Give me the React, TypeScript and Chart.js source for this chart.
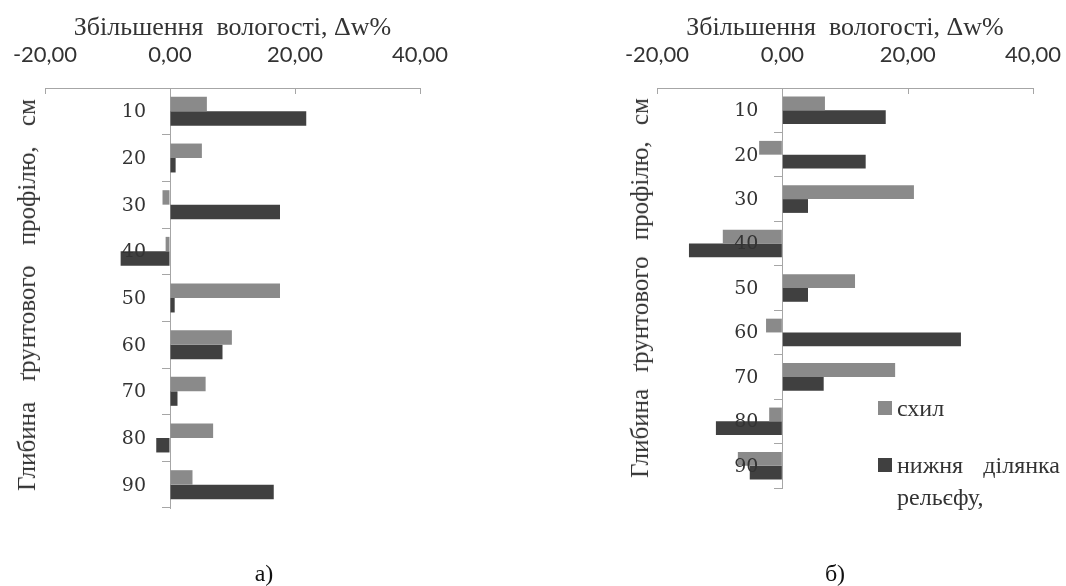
import React, { useEffect, useRef } from "react";
import { Chart, registerables } from "chart.js";

Chart.register(...registerables);

const categories = ["10", "20", "30", "40", "50", "60", "70", "80", "90"];
const slopeA = [5.9, 5.1, -1.2, -0.7, 17.6, 9.9, 5.7, 6.9, 3.6];
const lowA = [21.8, 0.9, 17.6, -7.9, 0.75, 8.4, 1.2, -2.2, 16.6];
const slopeB = [6.8, -3.7, 21.0, -9.5, 11.6, -2.6, 18.0, -2.1, -7.1];
const lowB = [16.5, 13.3, 4.1, -14.9, 4.1, 28.5, 6.6, -10.6, -5.2];
const xTicks = [-20, 0, 20, 40];

const seriesNames = ["схил", "нижня ділянка рельєфу,"];
const xTitle = "Збільшення  вологості, Δw%";
const yTitle = "Глибина ґрунтового профілю, см";

const GRAY = "#8a8a8a";
const DARK = "#404040";
const AXIS = "#a6a6a6";
const TEXT = "#333333";

const innerTicks = {
  id: "innerTicks",
  afterDraw(chart: any) {
    const x = chart.scales.x;
    const ctx = chart.ctx;
    ctx.save();
    ctx.strokeStyle = AXIS;
    ctx.lineWidth = 1;
    x.ticks.forEach((t: any) => {
      if (t.value === 0) return;
      const px = Math.round(x.getPixelForValue(t.value)) + 0.5;
      ctx.beginPath();
      ctx.moveTo(px, chart.chartArea.top);
      ctx.lineTo(px, chart.chartArea.top + 6);
      ctx.stroke();
    });
    ctx.restore();
  },
};

// category labels drawn beside the zero line, above the bars
const catLabels = {
  id: "catLabels",
  afterDatasetsDraw(chart: any) {
    const x = chart.scales.x;
    const y = chart.scales.y;
    const ctx = chart.ctx;
    const x0 = x.getPixelForValue(0);
    ctx.save();
    ctx.font = '19px "DejaVu Serif"';
    ctx.fillStyle = TEXT;
    ctx.textAlign = "right";
    ctx.textBaseline = "middle";
    (chart.data.labels as string[]).forEach((lab, i) => {
      ctx.fillText(lab, x0 - 24, y.getPixelForValue(i) + 1);
    });
    ctx.restore();
  },
};

function Panel(props: {
  slope: number[];
  low: number[];
  left: number;
  width: number;
  padLeft: number;
  padRight: number;
  padBottom: number;
}) {
  const ref = useRef<HTMLCanvasElement>(null);
  useEffect(() => {
    const chart = new Chart(ref.current!, {
      type: "bar",
      data: {
        labels: categories,
        datasets: [
          { label: seriesNames[0], data: props.slope, backgroundColor: GRAY },
          { label: seriesNames[1], data: props.low, backgroundColor: DARK },
        ],
      },
      options: {
        indexAxis: "y",
        responsive: false,
        animation: false,
        devicePixelRatio: 1,
        datasets: { bar: { categoryPercentage: 0.62, barPercentage: 1.0 } },
        layout: {
          padding: { left: props.padLeft, right: props.padRight, top: 0, bottom: props.padBottom },
        },
        plugins: { legend: { display: false }, tooltip: { enabled: false } },
        scales: {
          x: {
            position: "top",
            min: -20,
            max: 40,
            afterBuildTicks: (s: any) => {
              s.ticks = xTicks.map((v) => ({ value: v }));
            },
            afterFit: (s: any) => {
              s.height = 88;
              s.paddingLeft = 0;
              s.paddingRight = 0;
            },
            ticks: {
              font: { family: "Lato", size: 22 },
              color: TEXT,
              padding: 20,
              maxRotation: 0,
              callback: (v: any) => Number(v).toFixed(2).replace(".", ","),
            },
            grid: { drawOnChartArea: false, drawTicks: false },
            border: { color: AXIS, width: 1 },
            title: {
              display: true,
              text: xTitle,
              font: { family: "Liberation Serif", size: 26 },
              color: TEXT,
              padding: { top: 13, bottom: 0 },
            },
          },
          y: {
            type: "category",
            position: { x: 0 } as any,
            offset: true,
            grid: { offset: true, drawOnChartArea: false, tickLength: 8, color: AXIS },
            border: { color: AXIS, width: 1 },
            ticks: { display: false },
          },
        },
      },
      plugins: [innerTicks, catLabels],
    } as any);
    return () => chart.destroy();
  }, []);
  return (
    <canvas
      ref={ref}
      width={props.width}
      height={586}
      style={{ position: "absolute", left: props.left, top: 0, width: props.width, height: 586 }}
    />
  );
}

const vTitleStyle = (cx: number, cy: number, ws: number): React.CSSProperties => ({
  position: "absolute",
  left: cx,
  top: cy,
  transform: "translate(-50%, -50%) rotate(-90deg)",
  whiteSpace: "pre",
  fontFamily: "Liberation Serif",
  fontSize: 25,
  wordSpacing: ws,
  color: TEXT,
});

export default function App() {
  return (
    <div style={{ position: "absolute", left: 0, top: 0, width: 1066, height: 586, background: "#fff", overflow: "hidden" }}>
      <Panel slope={slopeA} low={lowA} left={0} width={540} padLeft={45} padRight={120} padBottom={78} />
      <Panel slope={slopeB} low={lowB} left={540} width={526} padLeft={117} padRight={33} padBottom={98} />
      <div style={vTitleStyle(27, 295, 14)}>{yTitle}</div>
      <div style={vTitleStyle(640, 288, 10)}>{yTitle}</div>
      <div style={{ position: "absolute", left: 878, top: 392, width: 186, fontFamily: "Liberation Serif", fontSize: 24, color: TEXT, lineHeight: "32px" }}>
        <div style={{ display: "flex", alignItems: "center" }}>
          <span style={{ display: "inline-block", width: 14, height: 14, background: GRAY, marginRight: 5, flex: "none" }} />
          <span>{seriesNames[0]}</span>
        </div>
        <div style={{ display: "flex", alignItems: "flex-start", marginTop: 25 }}>
          <span style={{ display: "inline-block", width: 14, height: 14, background: DARK, marginRight: 5, marginTop: 9, flex: "none" }} />
          <span style={{ textAlign: "justify", width: 163 }}>{seriesNames[1]}</span>
        </div>
      </div>
      <div style={{ position: "absolute", left: 264, top: 573, transform: "translate(-50%, -50%)", fontFamily: "Liberation Serif", fontSize: 24, color: "#111" }}>а)</div>
      <div style={{ position: "absolute", left: 835, top: 573, transform: "translate(-50%, -50%)", fontFamily: "Liberation Serif", fontSize: 24, color: "#111" }}>б)</div>
    </div>
  );
}
